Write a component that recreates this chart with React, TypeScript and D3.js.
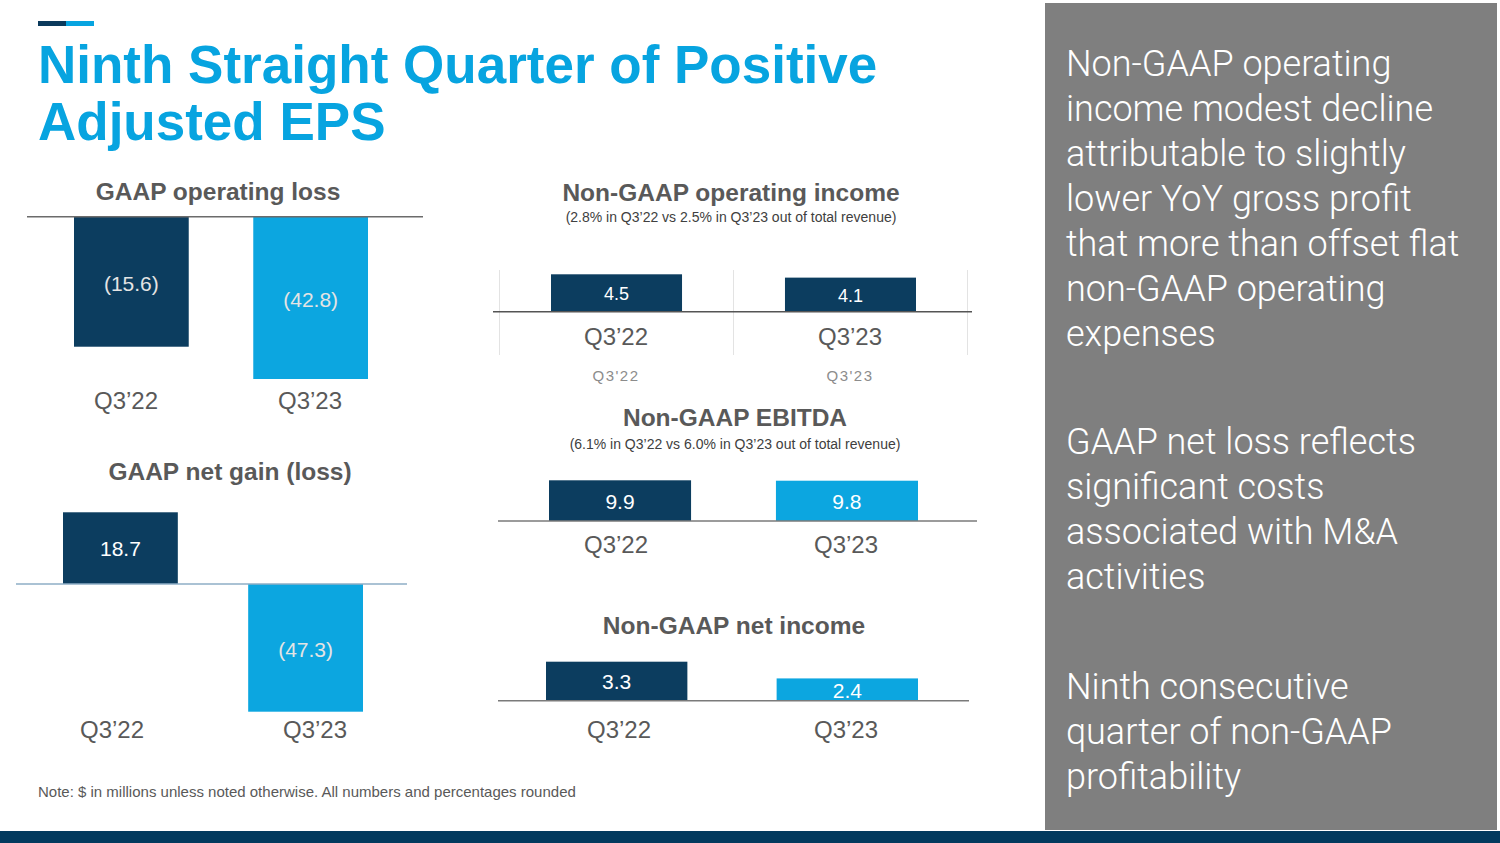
import React from "react";
import * as d3 from "d3";

// ---------- data ----------
const categories = ["Q3\u201922", "Q3\u201923"];
const gaapOperatingLoss = [-15.6, -42.8];
const gaapNetGainLoss = [18.7, -47.3];
const nonGaapOperatingIncome = [4.5, 4.1];
const nonGaapEbitda = [9.9, 9.8];
const nonGaapNetIncome = [3.3, 2.4];

const titleLines = ["Ninth Straight Quarter of Positive", "Adjusted EPS"];
const panelTitles = [
  "GAAP operating loss",
  "GAAP net gain (loss)",
  "Non-GAAP operating income",
  "Non-GAAP EBITDA",
  "Non-GAAP net income",
];
const panelSubtitles = [
  "",
  "",
  "(2.8% in Q3\u201922 vs 2.5% in Q3\u201923 out of total revenue)",
  "(6.1% in Q3\u201922 vs 6.0% in Q3\u201923 out of total revenue)",
  "",
];
const axisLabels = ["Q3'22", "Q3'23"];
const noteText = "Note: $ in millions unless noted otherwise. All numbers and percentages rounded";
const sideParagraphs = [
  [
    "Non-GAAP operating",
    "income modest decline",
    "attributable to slightly",
    "lower YoY gross profit",
    "that more than offset flat",
    "non-GAAP operating",
    "expenses",
  ],
  ["GAAP net loss reflects", "significant costs", "associated with M&A", "activities"],
  ["Ninth consecutive", "quarter of non-GAAP", "profitability"],
];

// ---------- style ----------
const DARK = "#0c3d5f";
const LIGHT = "#0ca6e0";
const TITLE_BLUE = "#07a4e0";
const GREY_TEXT = "#595959";
const FONT = "'Liberation Sans', Arial, sans-serif";
const SIDE_FONT = "Roboto, 'Liberation Sans', sans-serif";

type Panel = {
  values: number[];
  colors: string[];
  title: string;
  subtitle: string;
  titleX: number;
  titleY: number;
  subY: number;
  baseY: number;
  lineX: [number, number];
  lineColor: string;
  bandRange: [number, number];
  inner: number;
  lenDomain: [number, number];
  lenRange: [number, number];
  labelRange: [number, number];
  labelY: number;
  valueSize: number;
  grid?: boolean;
};

const panels: Panel[] = [
  {
    values: gaapOperatingLoss,
    colors: [DARK, LIGHT],
    title: panelTitles[0],
    subtitle: panelSubtitles[0],
    titleX: 218,
    titleY: 200,
    subY: 0,
    baseY: 216.7,
    lineX: [27, 423],
    lineColor: "#6b6b6b",
    bandRange: [74, 368],
    inner: 0.36,
    lenDomain: [0, 42.8],
    lenRange: [111.5, 162.3],
    labelRange: [126, 310],
    labelY: 409,
    valueSize: 21,
  },
  {
    values: gaapNetGainLoss,
    colors: [DARK, LIGHT],
    title: panelTitles[1],
    subtitle: panelSubtitles[1],
    titleX: 230,
    titleY: 480,
    subY: 0,
    baseY: 584,
    lineX: [16, 407],
    lineColor: "#8eaec6",
    bandRange: [63, 363],
    inner: 0.38,
    lenDomain: [0, 47.3],
    lenRange: [35.1, 127.7],
    labelRange: [112, 315],
    labelY: 738,
    valueSize: 21,
  },
  {
    values: nonGaapOperatingIncome,
    colors: [DARK, DARK],
    title: panelTitles[2],
    subtitle: panelSubtitles[2],
    titleX: 731,
    titleY: 201,
    subY: 222,
    baseY: 311.7,
    lineX: [493, 972],
    lineColor: "#555555",
    bandRange: [551, 916],
    inner: 0.44,
    lenDomain: [0, 4.5],
    lenRange: [0, 37.4],
    labelRange: [616, 850],
    labelY: 345,
    valueSize: 18,
    grid: true,
  },
  {
    values: nonGaapEbitda,
    colors: [DARK, LIGHT],
    title: panelTitles[3],
    subtitle: panelSubtitles[3],
    titleX: 735,
    titleY: 426,
    subY: 449,
    baseY: 521,
    lineX: [498, 977],
    lineColor: "#7a7a7a",
    bandRange: [549, 918],
    inner: 0.374,
    lenDomain: [0, 9.9],
    lenRange: [0, 40.7],
    labelRange: [616, 846],
    labelY: 553,
    valueSize: 21,
  },
  {
    values: nonGaapNetIncome,
    colors: [DARK, LIGHT],
    title: panelTitles[4],
    subtitle: panelSubtitles[4],
    titleX: 734,
    titleY: 634,
    subY: 0,
    baseY: 700.7,
    lineX: [498, 969],
    lineColor: "#7a7a7a",
    bandRange: [546, 918],
    inner: 0.387,
    lenDomain: [1.2, 3.3],
    lenRange: [0, 39],
    labelRange: [619, 846],
    labelY: 738,
    valueSize: 21,
  },
];

const fmt = (v: number) => (v < 0 ? `(${d3.format(".1f")(-v)})` : d3.format(".1f")(v));

function BarPanel({ p }: { p: Panel }) {
  const x = d3
    .scaleBand<string>()
    .domain(categories)
    .range(p.bandRange)
    .paddingInner(p.inner)
    .paddingOuter(0);
  const len = d3.scaleLinear().domain(p.lenDomain).range(p.lenRange);
  const lx = d3.scalePoint<string>().domain(categories).range(p.labelRange);
  const step = x.step();
  const firstCenter = (x(categories[0]) as number) + x.bandwidth() / 2;
  return (
    <g>
      <text
        x={p.titleX}
        y={p.titleY}
        textAnchor="middle"
        fontFamily={FONT}
        fontWeight="bold"
        fontSize={24.5}
        fill={GREY_TEXT}
      >
        {p.title}
      </text>
      {p.subtitle && (
        <text x={p.titleX} y={p.subY} textAnchor="middle" fontFamily={FONT} fontSize={14} fill="#404040">
          {p.subtitle}
        </text>
      )}
      {p.grid && (
        <g>
          {[-0.5, 0.5, 1.5].map((k, i) => {
            const gx = firstCenter + k * step;
            return <line key={i} x1={gx} x2={gx} y1={270} y2={355} stroke="#e3e3e3" strokeWidth={1} />;
          })}
          {categories.map((c, i) => (
            <text
              key={c}
              x={lx(c)}
              y={381}
              textAnchor="middle"
              fontFamily={FONT}
              fontSize={15}
              letterSpacing={1.5}
              fill="#8c8c8c"
            >
              {axisLabels[i]}
            </text>
          ))}
        </g>
      )}
      {p.values.map((v, i) => {
        const c = categories[i];
        const h = len(Math.abs(v));
        const y0 = v >= 0 ? p.baseY - h : p.baseY;
        const mid = y0 + h / 2;
        return (
          <g key={c}>
            <rect x={x(c)} y={y0} width={x.bandwidth()} height={h} fill={p.colors[i]} />
            <text
              x={(x(c) as number) + x.bandwidth() / 2}
              y={mid + p.valueSize * (v < 0 ? 0.45 : 0.38)}
              textAnchor="middle"
              fontFamily={FONT}
              fontSize={p.valueSize}
              fill={v < 0 ? "#e4e4e4" : "#ffffff"}
            >
              {fmt(v)}
            </text>
          </g>
        );
      })}
      <line x1={p.lineX[0]} x2={p.lineX[1]} y1={p.baseY} y2={p.baseY} stroke={p.lineColor} strokeWidth={1.5} />
      {categories.map((c) => (
        <text
          key={c}
          x={lx(c)}
          y={p.labelY}
          textAnchor="middle"
          fontFamily={FONT}
          fontSize={24}
          fill={GREY_TEXT}
        >
          {c}
        </text>
      ))}
    </g>
  );
}

export default function App() {
  const sideStarts = [76, 454, 699];
  return (
    <svg
      width={1500}
      height={843}
      viewBox="0 0 1500 843"
      style={{ position: "absolute", left: 0, top: 0, display: "block", background: "#ffffff" }}
    >
      <rect x={0} y={0} width={1500} height={843} fill="#ffffff" />
      {/* accent bar */}
      <rect x={38} y={21} width={28} height={5} fill="#0b3a5c" />
      <rect x={66} y={21} width={28} height={5} fill={TITLE_BLUE} />
      {/* title */}
      {titleLines.map((t, i) => (
        <text
          key={t}
          x={38}
          y={83 + i * 57}
          fontFamily={FONT}
          fontWeight="bold"
          fontSize={53}
          fill={TITLE_BLUE}
        >
          {t}
        </text>
      ))}
      {panels.map((p, i) => (
        <BarPanel key={i} p={p} />
      ))}
      <text x={38} y={797} fontFamily={FONT} fontSize={15} fill={GREY_TEXT}>
        {noteText}
      </text>
      {/* side panel */}
      <rect x={1045} y={3} width={452} height={827} fill="#7f7f7f" />
      {sideParagraphs.map((para, pi) =>
        para.map((line, li) => (
          <text
            key={`${pi}-${li}`}
            x={1066}
            y={sideStarts[pi] + li * 45}
            fontFamily={SIDE_FONT}
            fontWeight={300}
            fontSize={36}
            fill="#ffffff"
          >
            {line}
          </text>
        ))
      )}
      {/* bottom band */}
      <rect x={0} y={831} width={1500} height={12} fill="#023a5e" />
    </svg>
  );
}
